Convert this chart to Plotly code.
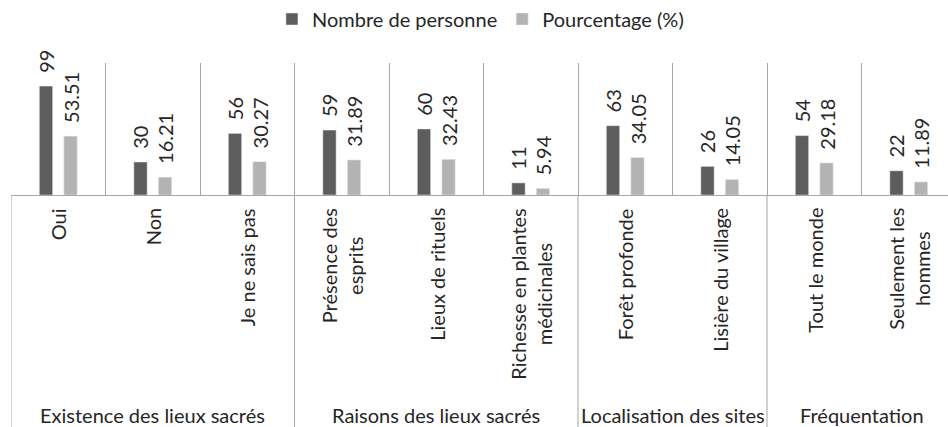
import plotly.graph_objects as go

groups = ["Existence des lieux sacrés", "Raisons des lieux sacrés",
          "Localisation des sites", "Fréquentation"]
group_sizes = [3, 3, 2, 2]
categories = ["Oui", "Non", "Je ne sais pas",
              "Présence des<br>esprits", "Lieux de rituels",
              "Richesse en plantes<br>médicinales",
              "Forêt profonde", "Lisière du village",
              "Tout le monde", "Seulement les<br>hommes"]
nombre = [99, 30, 56, 59, 60, 11, 63, 26, 54, 22]
pourcentage = [53.51, 16.21, 30.27, 31.89, 32.43, 5.94, 34.05, 14.05, 29.18, 11.89]
series_names = ["Nombre de personne", "Pourcentage (%)"]

FONT = "Lato"
TXT = "#262626"
LINE = "#a6a6a6"
pad = "\u00a0\u00a0"
LBL = 20

H = 427
T, B = 63, 232
PH = H - T - B

fig = go.Figure()
fig.add_trace(go.Bar(
    x=categories, y=nombre, name=series_names[0], marker_color="#5d5d5d",
    text=[pad + str(v) for v in nombre], textposition="outside", textangle=-90,
    constraintext="none", cliponaxis=False,
    textfont=dict(family=FONT, size=LBL, color=TXT)))
fig.add_trace(go.Bar(
    x=categories, y=pourcentage, name=series_names[1], marker_color="#b3b3b3",
    text=[pad + f"{v:.2f}" for v in pourcentage], textposition="outside", textangle=-90,
    constraintext="none", cliponaxis=False,
    textfont=dict(family=FONT, size=LBL, color=TXT)))

annotations = []
for c in categories:
    annotations.append(dict(
        x=c, xref="x", y=0, yref="paper", yanchor="top", xanchor="center",
        yshift=-11, text=c, textangle=-90, showarrow=False, align="center",
        font=dict(family=FONT, size=LBL, color=TXT)))

shapes = []
start = 0
for g, n in zip(groups, group_sizes):
    mid = start + (n - 1) / 2
    annotations.append(dict(
        x=mid, xref="x", y=0, yref="paper", yanchor="middle", xanchor="center",
        yshift=-220, text=g, showarrow=False,
        font=dict(family=FONT, size=LBL, color=TXT)))
    shapes.append(dict(type="line", xref="x", yref="paper",
                       x0=start - 0.5, x1=start - 0.5, y0=0, y1=-(B + 5) / PH,
                       line=dict(color=LINE, width=1)))
    start += n

fig.update_layout(
    width=948, height=H,
    margin=dict(l=11, r=0, t=T, b=B, autoexpand=False),
    paper_bgcolor="white", plot_bgcolor="white",
    barmode="group", bargap=0.481, bargroupgap=0.457,
    font=dict(family=FONT, size=LBL, color=TXT),
    legend=dict(orientation="h", x=0.501, xanchor="center", y=1 + (T - 19) / PH,
                yanchor="middle", font=dict(family=FONT, size=20, color=TXT),
                itemwidth=30),
    annotations=annotations, shapes=shapes,
)
fig.update_xaxes(type="category", tickson="boundaries", showgrid=True, gridcolor=LINE,
                 gridwidth=1, showticklabels=False, ticks="", showline=True,
                 linecolor=LINE, linewidth=1, zeroline=False,
                 range=[-0.5, len(categories) - 0.5 - 8 / 94.5])
fig.update_yaxes(range=[0, 120], visible=False, showgrid=False, zeroline=False)

fig.write_html("out.html", config={"displayModeBar": False},
               post_script="document.body.style.margin='0px';document.body.style.overflow='hidden';")
